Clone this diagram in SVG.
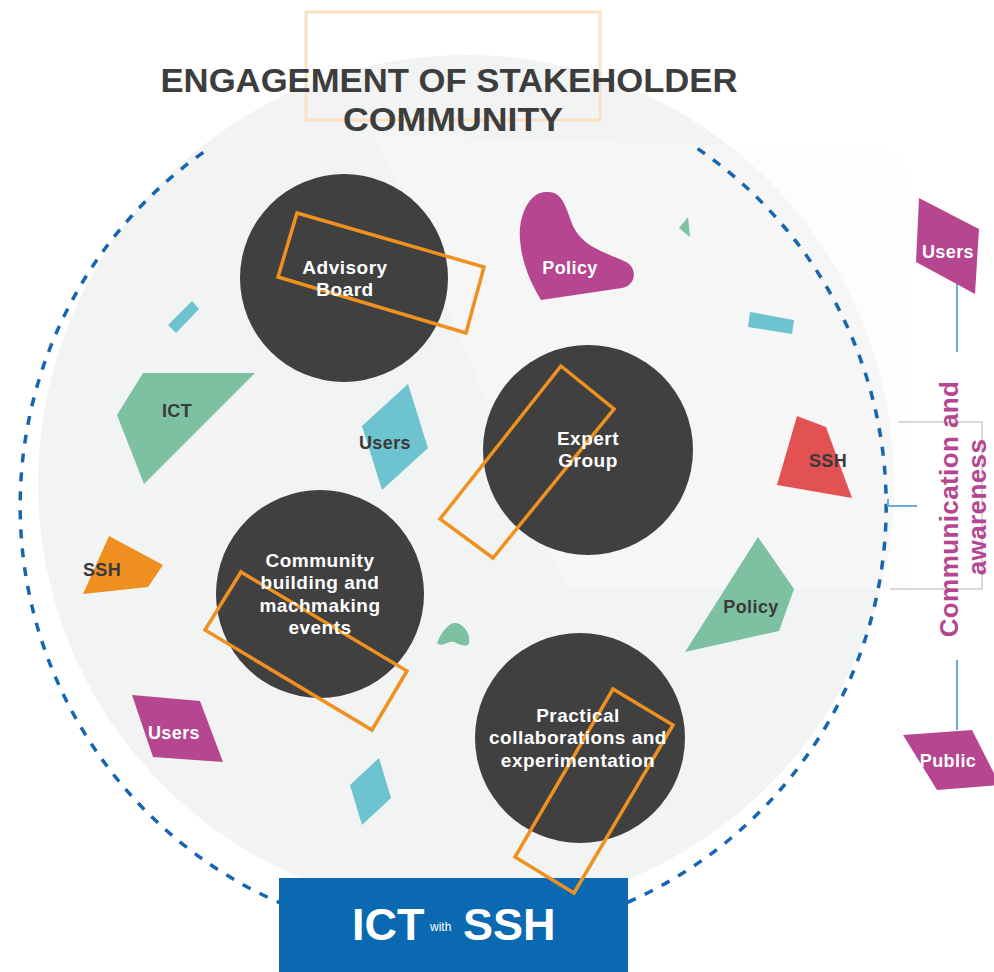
<svg xmlns="http://www.w3.org/2000/svg" width="994" height="972" viewBox="0 0 994 972">
<defs>
<style>
text{font-family:"Liberation Sans",Arial,sans-serif;font-weight:bold}
.hub{fill:#404040}
.frame{fill:none;stroke:#ef9120;stroke-width:3.5}
.wt{fill:#ffffff;font-size:19px;text-anchor:middle;letter-spacing:0.5px}
.dk{fill:#3a3a3a;font-size:18px;text-anchor:middle;letter-spacing:0.4px}
.lw{fill:#ffffff;font-size:18px;text-anchor:middle;letter-spacing:0.4px}
.mag{fill:#b5468f}.grn{fill:#7dc0a2}.cyn{fill:#6ec3d0}.red{fill:#e35252}.org{fill:#ee8f1f}
.link{stroke:#6fa8dc;stroke-width:2;fill:none}
.brk{stroke:#cdcdcd;stroke-width:1.5;fill:none}
</style>
</defs>
<rect width="994" height="972" fill="#ffffff"/>
<circle cx="466" cy="483" r="428" fill="#f2f3f3"/>
<path d="M375 135 L880 150 Q905 152 906 175 L906 590 L565 587 Z" fill="#fbfbfb" opacity="0.45"/>
<rect x="306" y="12" width="294" height="108" fill="none" stroke="#fbe1c3" stroke-width="3"/>
<g id="title">
<text x="449" y="92" font-size="34" fill="#3d3d3d" text-anchor="middle" textLength="577" lengthAdjust="spacingAndGlyphs">ENGAGEMENT OF STAKEHOLDER</text>
<text x="453" y="131" font-size="34" fill="#3d3d3d" text-anchor="middle" textLength="220" lengthAdjust="spacingAndGlyphs">COMMUNITY</text>
</g>
<path d="M697.6 148.6 A433 433 0 1 1 205.3 151" fill="none" stroke="#1565b0" stroke-width="3.5" stroke-dasharray="9 10"/>
<g id="connectors">
<line class="link" x1="957" y1="283" x2="957" y2="352"/>
<line class="link" x1="957" y1="660" x2="957" y2="730"/>
<polyline class="link" points="888,499 888,506 917,506"/>
<polyline class="brk" points="898,422 982,422 982,589 890,589"/>
</g>
<g id="brand">
<rect x="279" y="878" width="349" height="94" fill="#0b69b1"/>
<text x="352" y="940" font-size="45" fill="#ffffff">ICT</text>
<text x="430" y="931" font-size="12" fill="#ffffff" style="font-weight:normal">with</text>
<text x="463" y="940" font-size="45" fill="#ffffff">SSH</text>
</g>
<g id="shapes">
<polygon class="cyn" points="192,301 199,309 176,333 168,325"/>
<polygon class="grn" points="688,217 679,228 690,237"/>
<polygon class="cyn" points="750,312 794,320 792,334 748,327"/>
<path class="grn" d="M437 643 C440 635 447 624 454 623 C462 622 471 633 469 643 C468 648 460 645 454 642 C448 640 442 648 437 643 Z"/>
<polygon class="cyn" points="379,758 391,798 362,825 350,785"/>
</g>
<g id="policy-top">
<path class="mag" d="M548 192 C530 190 518 215 520 240 C522 265 532 285 541 300 L622 288 C636 286 638 268 626 262 C605 252 585 248 574 228 C566 210 564 192 548 192 Z"/>
<text class="lw" x="570" y="274">Policy</text>
</g>
<g id="ict">
<polygon class="grn" points="143,373 255,373 144,484 117,415"/>
<text class="dk" x="177" y="417">ICT</text>
</g>
<g id="users-mid">
<polygon class="cyn" points="408,384 428,448 382,490 362,426"/>
<text class="dk" x="385" y="449">Users</text>
</g>
<g id="ssh-left">
<polygon class="org" points="109,536 163,565 148,587 83,594"/>
<text class="dk" x="102" y="576">SSH</text>
</g>
<g id="users-low">
<polygon class="mag" points="132,695 200,701 223,762 153,757"/>
<text class="lw" x="174" y="739">Users</text>
</g>
<g id="ssh-right">
<polygon class="red" points="797,416 826,427 852,498 777,485"/>
<text class="dk" x="828" y="467">SSH</text>
</g>
<g id="policy-right">
<polygon class="grn" points="758,537 794,589 779,631 685,652"/>
<text class="dk" x="751" y="613">Policy</text>
</g>
<g id="users-right">
<polygon class="mag" points="919,198 979,229 975,294 916,262"/>
<text class="lw" x="948" y="258">Users</text>
</g>
<g id="public">
<polygon class="mag" points="903,735 972,730 1000,785 937,790"/>
<text class="lw" x="948" y="767">Public</text>
</g>
<g id="communication">
<text transform="translate(958,509) rotate(-90)" x="0" y="0" font-size="26" fill="#b5468f" text-anchor="middle" letter-spacing="0.4">Communication and</text>
<text transform="translate(986,507) rotate(-90)" x="0" y="0" font-size="26" fill="#b5468f" text-anchor="middle" letter-spacing="0.4">awareness</text>
</g>
<g id="advisory-board">
<circle class="hub" cx="344" cy="278" r="104"/>
<polygon class="frame" points="297,213 484,267 466,333 278,277"/>
<text class="wt" x="345" y="274">Advisory</text>
<text class="wt" x="345" y="296">Board</text>
</g>
<g id="expert-group">
<circle class="hub" cx="588" cy="450" r="105"/>
<polygon class="frame" points="561,366 614,409 493,558 440,519"/>
<text class="wt" x="588" y="445">Expert</text>
<text class="wt" x="588" y="467">Group</text>
</g>
<g id="community-building">
<circle class="hub" cx="320" cy="594" r="104"/>
<polygon class="frame" points="241,572 407,671 372,730 205,630"/>
<text class="wt" x="320" y="567">Community</text>
<text class="wt" x="320" y="589">building and</text>
<text class="wt" x="320" y="612">machmaking</text>
<text class="wt" x="320" y="634">events</text>
</g>
<g id="practical-collaborations">
<circle class="hub" cx="580" cy="738" r="105"/>
<polygon class="frame" points="613,689 673,725 574,893 515,857"/>
<text class="wt" x="578" y="722">Practical</text>
<text class="wt" x="578" y="744">collaborations and</text>
<text class="wt" x="578" y="767">experimentation</text>
</g>
</svg>
